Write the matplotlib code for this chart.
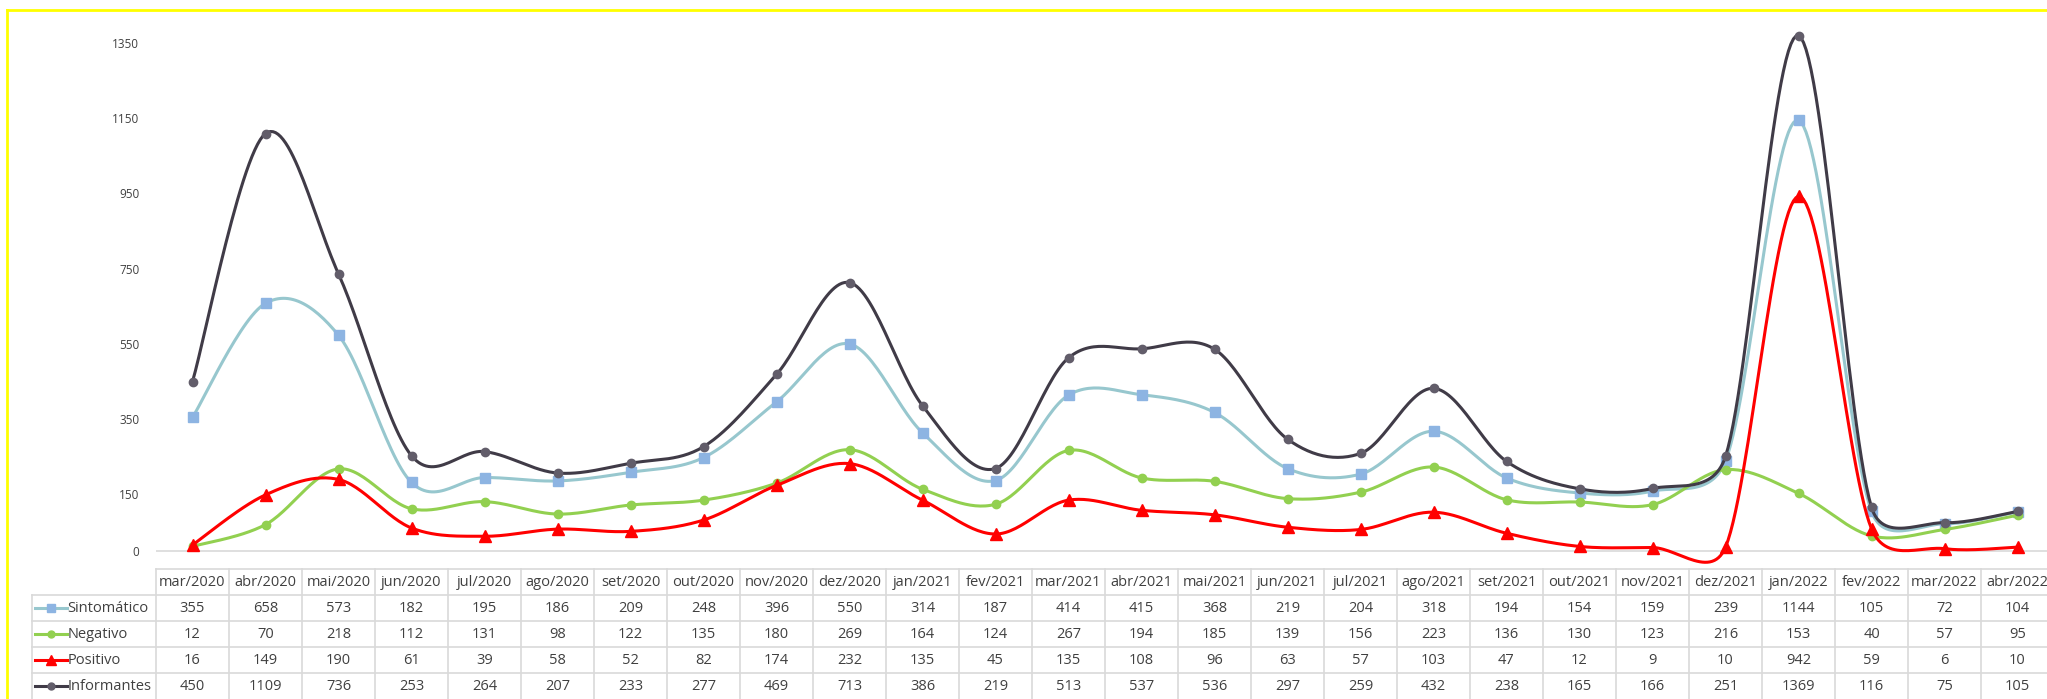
import numpy as np
from matplotlib import pyplot as plt
from matplotlib.lines import Line2D

plt.rcParams['font.family'] = ['Open Sans', 'DejaVu Sans']

months = ['mar/2020', 'abr/2020', 'mai/2020', 'jun/2020', 'jul/2020', 'ago/2020', 'set/2020',
          'out/2020', 'nov/2020', 'dez/2020', 'jan/2021', 'fev/2021', 'mar/2021', 'abr/2021',
          'mai/2021', 'jun/2021', 'jul/2021', 'ago/2021', 'set/2021', 'out/2021', 'nov/2021',
          'dez/2021', 'jan/2022', 'fev/2022', 'mar/2022', 'abr/2022']
sintomatico = [355, 658, 573, 182, 195, 186, 209, 248, 396, 550, 314, 187, 414, 415, 368, 219,
               204, 318, 194, 154, 159, 239, 1144, 105, 72, 104]
negativo = [12, 70, 218, 112, 131, 98, 122, 135, 180, 269, 164, 124, 267, 194, 185, 139, 156,
            223, 136, 130, 123, 216, 153, 40, 57, 95]
positivo = [16, 149, 190, 61, 39, 58, 52, 82, 174, 232, 135, 45, 135, 108, 96, 63, 57, 103, 47,
            12, 9, 10, 942, 59, 6, 10]
informantes = [450, 1109, 736, 253, 264, 207, 233, 277, 469, 713, 386, 219, 513, 537, 536, 297,
               259, 432, 238, 165, 166, 251, 1369, 116, 75, 105]
yticks = [0, 150, 350, 550, 750, 950, 1150, 1350]

# Series styles: name, values, line colour, marker, marker colour, marker size
series = [
    ('Sintomático', sintomatico, '#97C7CE', 's', '#8DB4E2', 7),
    ('Negativo', negativo, '#92D050', 'o', '#92D050', 6),
    ('Positivo', positivo, '#FF0000', '^', '#FF0000', 8),
    ('Informantes', informantes, '#403B47', 'o', '#625D6A', 6),
]

W, H = 2047, 699
PX_X = 73.0       # pixels per category
PX_Y = 542 / 1440  # pixels per y unit


def smooth(y, n=30):
    """ Excel-like smoothed line: bezier segments, control arms limited in pixel space """
    pts = np.column_stack([np.arange(len(y)) * PX_X, np.asarray(y, float) * PX_Y])
    t = np.linspace(0, 1, n)[:, None]
    out = []
    for i in range(len(pts) - 1):
        p0 = pts[i - 1] if i > 0 else pts[i]
        p1, p2 = pts[i], pts[i + 1]
        p3 = pts[i + 2] if i + 2 < len(pts) else pts[i + 1]
        d12 = np.hypot(*(p2 - p1))
        d02 = np.hypot(*(p2 - p0))
        d13 = np.hypot(*(p3 - p1))
        f1 = 1/6 if d02/6 < d12/2 else d12/d02/2
        f2 = 1/6 if d13/6 < d12/2 else d12/d13/2
        c1 = p1 + (p2 - p0) * f1
        c2 = p2 - (p3 - p1) * f2
        seg = ((1 - t)**3)*p1 + 3*((1 - t)**2)*t*c1 + 3*(1 - t)*t**2*c2 + t**3*p2
        out.append(seg if i == 0 else seg[1:])
    seg = np.vstack(out)
    return seg[:, 0] / PX_X, seg[:, 1] / PX_Y


fig = plt.figure(figsize=(W/100, H/100), dpi=100)

# Main plot area
ax = fig.add_axes([156/W, 1 - 566/H, 1898/W, 542/H])
x = np.arange(len(months))
for k, (name, vals, lc, mk, mc, ms) in enumerate(series):
    sx, sy = smooth(vals)
    ax.plot(sx, sy, color=lc, lw=2.2, zorder=3 + k, solid_capstyle='round')
    ax.plot(x, vals, ls='none', marker=mk, color=mc, ms=ms, zorder=3 + k)

ax.axhline(0, color='#D9D9D9', lw=1.2, zorder=1)
ax.set_xlim(-0.5, len(months) - 0.5)
ax.set_ylim(-40, 1400)
ax.set_yticks(yticks)
ax.set_yticklabels([str(v) for v in yticks], fontsize=8.5, color='#404040')
ax.tick_params(axis='y', length=0, pad=12)
ax.set_xticks([])
for s in ax.spines.values():
    s.set_visible(False)

# Data table below the plot
tax = fig.add_axes([156/W, 0, 1898/W, 130/H])
tax.set_xlim(-0.5, len(months) - 0.5)
tax.set_ylim(5, 0)
tax.axis('off')
grid = '#D9D9D9'
xl = -0.5 - 124/73  # left edge of label column
xr = len(months) - 0.5
tax.plot([-0.5, xr], [0, 0], color=grid, lw=1.2, clip_on=False)
for r in range(1, 5):
    tax.plot([xl, xr], [r, r], color=grid, lw=1.2, clip_on=False)
for c in range(len(months) + 1):
    tax.plot([c - 0.5, c - 0.5], [0, 5], color=grid, lw=1.2, clip_on=False)
tax.plot([xl, xl], [1, 5], color=grid, lw=1.2, clip_on=False)

for i, m in enumerate(months):
    tax.text(i, 0.5, m, ha='center', va='center', fontsize=10.5, color='#404040')
for r, (name, vals, lc, mk, mc, ms) in enumerate(series):
    yy = r + 1.5
    for i, v in enumerate(vals):
        tax.text(i, yy, str(v), ha='center', va='center', fontsize=10.5, color='#404040')
    kx0, kx1 = -0.5 + (35 - 156)/73, -0.5 + (67 - 156)/73
    tax.plot([kx0, kx1], [yy, yy], color=lc, lw=2.2, clip_on=False)
    tax.plot([(kx0 + kx1)/2], [yy], ls='none', marker=mk, color=mc, ms=ms - 1, clip_on=False)
    tax.text(kx1 + 0.01, yy, name, ha='left', va='center', fontsize=10.5, color='#404040')

# Yellow frame around the chart
fig.add_artist(Line2D([7/W, 7/W], [0, 1 - 10/H], color='#FFFF00', lw=2))
fig.add_artist(Line2D([7/W, 1], [1 - 10/H, 1 - 10/H], color='#FFFF00', lw=2))

fig.savefig('out.png', dpi=100, facecolor='white')
